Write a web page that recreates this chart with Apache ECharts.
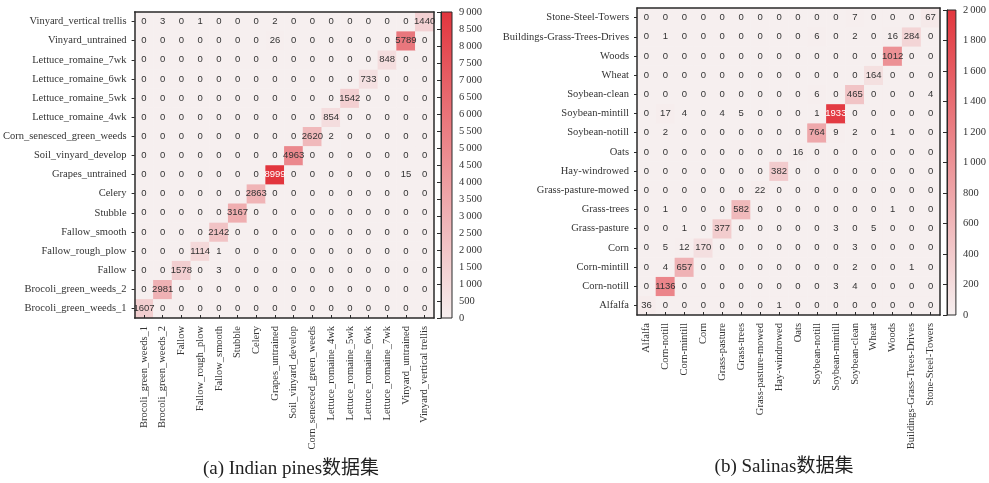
<!DOCTYPE html>
<html>
<head>
<meta charset="utf-8">
<script src="https://cdn.jsdelivr.net/npm/echarts@6/dist/echarts.min.js"></script>
<style>
  html, body { margin: 0; padding: 0; background: #ffffff; }
  #chart { width: 989px; height: 483px; }
</style>
</head>
<body>
<div id="chart"></div>
<script>
// Class names, bottom-to-top on the y axis and left-to-right on the x axis
const indianClasses = [
  'Brocoli_green_weeds_1', 'Brocoli_green_weeds_2', 'Fallow', 'Fallow_rough_plow',
  'Fallow_smooth', 'Stubble', 'Celery', 'Grapes_untrained', 'Soil_vinyard_develop',
  'Corn_senesced_green_weeds', 'Lettuce_romaine_4wk', 'Lettuce_romaine_5wk',
  'Lettuce_romaine_6wk', 'Lettuce_romaine_7wk', 'Vinyard_untrained', 'Vinyard_vertical trellis'
];
const salinasClasses = [
  'Alfalfa', 'Corn-notill', 'Corn-mintill', 'Corn', 'Grass-pasture', 'Grass-trees',
  'Grass-pasture-mowed', 'Hay-windrowed', 'Oats', 'Soybean-notill', 'Soybean-mintill',
  'Soybean-clean', 'Wheat', 'Woods', 'Buildings-Grass-Trees-Drives', 'Stone-Steel-Towers'
];

// Confusion matrices: row i belongs to y category i, column j to x category j
const indianMatrix = [
  [1607, 0, 0, 0, 0, 0, 0, 0, 0, 0, 0, 0, 0, 0, 0, 0],
  [0, 2981, 0, 0, 0, 0, 0, 0, 0, 0, 0, 0, 0, 0, 0, 0],
  [0, 0, 1578, 0, 3, 0, 0, 0, 0, 0, 0, 0, 0, 0, 0, 0],
  [0, 0, 0, 1114, 1, 0, 0, 0, 0, 0, 0, 0, 0, 0, 0, 0],
  [0, 0, 0, 0, 2142, 0, 0, 0, 0, 0, 0, 0, 0, 0, 0, 0],
  [0, 0, 0, 0, 0, 3167, 0, 0, 0, 0, 0, 0, 0, 0, 0, 0],
  [0, 0, 0, 0, 0, 0, 2863, 0, 0, 0, 0, 0, 0, 0, 0, 0],
  [0, 0, 0, 0, 0, 0, 0, 8999, 0, 0, 0, 0, 0, 0, 15, 0],
  [0, 0, 0, 0, 0, 0, 0, 0, 4963, 0, 0, 0, 0, 0, 0, 0],
  [0, 0, 0, 0, 0, 0, 0, 0, 0, 2620, 2, 0, 0, 0, 0, 0],
  [0, 0, 0, 0, 0, 0, 0, 0, 0, 0, 854, 0, 0, 0, 0, 0],
  [0, 0, 0, 0, 0, 0, 0, 0, 0, 0, 0, 1542, 0, 0, 0, 0],
  [0, 0, 0, 0, 0, 0, 0, 0, 0, 0, 0, 0, 733, 0, 0, 0],
  [0, 0, 0, 0, 0, 0, 0, 0, 0, 0, 0, 0, 0, 848, 0, 0],
  [0, 0, 0, 0, 0, 0, 0, 26, 0, 0, 0, 0, 0, 0, 5789, 0],
  [0, 3, 0, 1, 0, 0, 0, 2, 0, 0, 0, 0, 0, 0, 0, 1440]
];
const salinasMatrix = [
  [36, 0, 0, 0, 0, 0, 0, 1, 0, 0, 0, 0, 0, 0, 0, 0],
  [0, 1136, 0, 0, 0, 0, 0, 0, 0, 0, 3, 4, 0, 0, 0, 0],
  [0, 4, 657, 0, 0, 0, 0, 0, 0, 0, 0, 2, 0, 0, 1, 0],
  [0, 5, 12, 170, 0, 0, 0, 0, 0, 0, 0, 3, 0, 0, 0, 0],
  [0, 0, 1, 0, 377, 0, 0, 0, 0, 0, 3, 0, 5, 0, 0, 0],
  [0, 1, 0, 0, 0, 582, 0, 0, 0, 0, 0, 0, 0, 1, 0, 0],
  [0, 0, 0, 0, 0, 0, 22, 0, 0, 0, 0, 0, 0, 0, 0, 0],
  [0, 0, 0, 0, 0, 0, 0, 382, 0, 0, 0, 0, 0, 0, 0, 0],
  [0, 0, 0, 0, 0, 0, 0, 0, 16, 0, 0, 0, 0, 0, 0, 0],
  [0, 2, 0, 0, 0, 0, 0, 0, 0, 764, 9, 2, 0, 1, 0, 0],
  [0, 17, 4, 0, 4, 5, 0, 0, 0, 1, 1933, 0, 0, 0, 0, 0],
  [0, 0, 0, 0, 0, 0, 0, 0, 0, 6, 0, 465, 0, 0, 0, 4],
  [0, 0, 0, 0, 0, 0, 0, 0, 0, 0, 0, 0, 164, 0, 0, 0],
  [0, 0, 0, 0, 0, 0, 0, 0, 0, 0, 0, 0, 0, 1012, 0, 0],
  [0, 1, 0, 0, 0, 0, 0, 0, 0, 6, 0, 2, 0, 16, 284, 0],
  [0, 0, 0, 0, 0, 0, 0, 0, 0, 0, 0, 7, 0, 0, 0, 67]
];

// Colour-bar ranges and tick steps
const indianScale = { min: 0, max: 9000, step: 500 };
const salinasScale = { min: 0, max: 2000, step: 200 };

const captions = ['(a) Indian pines数据集', '(b) Salinas数据集'];

const RAMP = ['#f6efef', '#e2353d'];
const SERIF = "'Liberation Serif', 'Times New Roman', 'Noto Sans CJK SC', serif";
const CELL_FONT = "'Liberation Sans Narrow', 'Liberation Sans', Arial, sans-serif";
const INK = '#2a2a2a';

function toCells(matrix, max) {
  const out = [];
  matrix.forEach((row, y) => {
    row.forEach((v, x) => {
      out.push({
        value: [x, y, v],
        label: { color: v > max * 0.9 ? '#ffffff' : '#333333' }
      });
    });
  });
  return out;
}

function thousands(v) {
  if (v >= 1000) {
    return Math.floor(v / 1000) + '\u2009' + String(v % 1000).padStart(3, '0');
  }
  return String(v);
}

// Panel geometry: heatmap box plus colour bar beside it
const panels = [
  { classes: indianClasses, matrix: indianMatrix, scale: indianScale,
    grid: { left: 131, top: 12, width: 303, height: 306 },
    bar: { left: 441, top: 12, width: 11, height: 306 } },
  { classes: salinasClasses, matrix: salinasMatrix, scale: salinasScale,
    grid: { left: 637, top: 8, width: 303, height: 307 },
    bar: { left: 947, top: 10, width: 11, height: 305 } }
];

const grids = [], xAxes = [], yAxes = [], series = [], visualMaps = [];

panels.forEach((p, k) => {
  const gHeat = grids.length;
  grids.push(Object.assign({ containLabel: false }, p.grid));
  const gBar = grids.length;
  grids.push(Object.assign({
    containLabel: false,
    show: true,
    borderColor: INK,
    borderWidth: 1,
    backgroundColor: {
      type: 'linear', x: 0, y: 0, x2: 0, y2: 1,
      colorStops: [{ offset: 0, color: RAMP[1] }, { offset: 1, color: RAMP[0] }]
    }
  }, p.bar));

  // bottom category axis with rotated labels
  const xMain = xAxes.length;
  xAxes.push({
    type: 'category', gridIndex: gHeat, data: p.classes, position: 'bottom', z: 10,
    axisLine: { show: true, lineStyle: { color: INK, width: 1.5 } },
    axisTick: { show: true, alignWithLabel: true, inside: true, length: 3, lineStyle: { color: INK } },
    axisLabel: { rotate: 90, margin: 8, fontFamily: SERIF, fontSize: 10.5, color: '#333' },
    splitLine: { show: false }
  });
  // top edge of the box
  xAxes.push({
    type: 'category', gridIndex: gHeat, data: p.classes, position: 'top', z: 10,
    axisLine: { show: true, lineStyle: { color: INK, width: 1.5 } },
    axisTick: { show: false }, axisLabel: { show: false }
  });
  const yMain = yAxes.length;
  yAxes.push({
    type: 'category', gridIndex: gHeat, data: p.classes, position: 'left', z: 10,
    axisLine: { show: true, lineStyle: { color: INK, width: 1.5 } },
    axisTick: { show: true, alignWithLabel: true, length: 3, lineStyle: { color: INK } },
    axisLabel: { margin: 8, fontFamily: SERIF, fontSize: 10.5, color: '#333' },
    splitLine: { show: false }
  });
  // right edge of the box
  yAxes.push({
    type: 'category', gridIndex: gHeat, data: p.classes, position: 'right', z: 10,
    axisLine: { show: true, lineStyle: { color: INK, width: 1.5 } },
    axisTick: { show: false }, axisLabel: { show: false }
  });

  // colour-bar axes
  xAxes.push({ type: 'value', gridIndex: gBar, show: false });
  yAxes.push({
    type: 'value', gridIndex: gBar, position: 'right', z: 10,
    min: p.scale.min, max: p.scale.max, interval: p.scale.step,
    axisLine: { show: true, lineStyle: { color: INK } },
    axisTick: { show: true, inside: true, length: 4, lineStyle: { color: INK, width: 1 } },
    axisLabel: { margin: 7, fontFamily: SERIF, fontSize: 10.5, color: '#333', formatter: thousands },
    splitLine: { show: false }
  });

  visualMaps.push({
    type: 'continuous', show: false, seriesIndex: k,
    min: p.scale.min, max: p.scale.max, dimension: 2,
    inRange: { color: RAMP }
  });

  series.push({
    type: 'heatmap',
    xAxisIndex: xMain, yAxisIndex: yMain,
    data: toCells(p.matrix, p.scale.max),
    label: { show: true, fontFamily: CELL_FONT, fontSize: 9.5, formatter: (d) => d.value[2] },
    itemStyle: { borderWidth: 0 },
    emphasis: { disabled: true }
  });
});

const chart = echarts.init(document.getElementById('chart'), null, { renderer: 'canvas' });
chart.setOption({
  animation: false,
  backgroundColor: '#ffffff',
  grid: grids,
  xAxis: xAxes,
  yAxis: yAxes,
  visualMap: visualMaps,
  series: series,
  graphic: [
    { type: 'text', x: 291, y: 469, style: { text: captions[0], font: '19px ' + SERIF, fill: '#222', align: 'center', verticalAlign: 'middle' } },
    { type: 'text', x: 784, y: 467, style: { text: captions[1], font: '19px ' + SERIF, fill: '#222', align: 'center', verticalAlign: 'middle' } }
  ]
});
</script>
</body>
</html>
